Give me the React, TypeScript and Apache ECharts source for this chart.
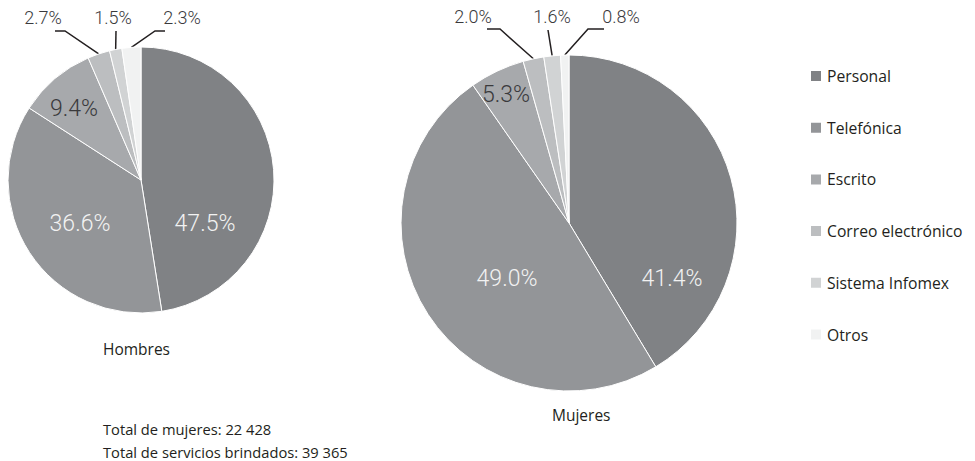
import React, { useEffect, useRef } from "react";
import * as echarts from "echarts";

const categories = ["Personal", "Telefónica", "Escrito", "Correo electrónico", "Sistema Infomex", "Otros"];
const hombresValues = [47.5, 36.6, 9.4, 2.7, 1.5, 2.3];
const mujeresValues = [41.4, 49.0, 5.3, 2.0, 1.6, 0.8];
const sliceColors = ["#808285", "#939598", "#a7a9ac", "#bcbec0", "#d1d3d4", "#f1f2f2"];
const pieTitles = ["Hombres", "Mujeres"];
const footerLines = ["Total de mujeres: 22 428", "Total de servicios brindados: 39 365"];

// label placement (offsets from pie centre), style only
type LabelCfg = { text: number[]; elbow?: number[]; end?: number[]; light?: boolean };
const hombresLabels: LabelCfg[] = [
  { text: [64, 43], light: true },
  { text: [-61, 43], light: true },
  { text: [-67, -72] },
  { text: [-98, -163], elbow: [-76, -149], end: [-86, -149] },
  { text: [-28, -163], elbow: [-25, -149], end: [-25, -149] },
  { text: [41, -163], elbow: [14, -149], end: [24, -149] },
];
const mujeresLabels: LabelCfg[] = [
  { text: [103, 55], light: true },
  { text: [-62, 55], light: true },
  { text: [-63, -129] },
  { text: [-96, -207], elbow: [-69, -194], end: [-82, -194] },
  { text: [-17, -207], elbow: [-21, -193], end: [-21, -193] },
  { text: [52, -207], elbow: [19, -194], end: [35, -194] },
];

const FONT = "'Open Sans', sans-serif";
const NUMFONT = "Roboto, sans-serif";
const TEXT_COLOR = "#231f20";

function buildData(values: number[], cfg: LabelCfg[]) {
  return values.map((v, i) => {
    const outside = !!cfg[i].elbow;
    return {
      name: categories[i],
      value: v,
      itemStyle: { color: sliceColors[i] },
      label: {
        position: outside ? "outside" : "inside",
        color: cfg[i].light ? "#f2f2f2" : "#3a3a3c",
        fontSize: outside ? 18 : 23,
      },
      labelLine: { show: outside },
    };
  });
}

function makeLayout(cx: number, cy: number, cfg: LabelCfg[]) {
  return (params: any) => {
    const c = cfg[params.dataIndex];
    const out: any = {
      x: cx + c.text[0],
      y: cy + c.text[1],
      align: "center",
      verticalAlign: "middle",
    };
    if (c.elbow && c.end && params.labelLinePoints) {
      const s = params.labelLinePoints[0];
      out.labelLinePoints = [
        [s[0], s[1]],
        [cx + c.elbow[0], cy + c.elbow[1]],
        [cx + c.end[0], cy + c.end[1]],
      ];
    }
    return out;
  };
}

function pieSeries(values: number[], cfg: LabelCfg[], cx: number, cy: number, r: number) {
  return {
    type: "pie",
    center: [cx, cy],
    radius: r,
    startAngle: 90,
    clockwise: true,
    avoidLabelOverlap: false,
    silent: true,
    itemStyle: { borderColor: "#ffffff", borderWidth: 1 },
    label: {
      show: true,
      fontFamily: NUMFONT,
      fontWeight: 300,
      formatter: (p: any) => Number(p.value).toFixed(1) + "%",
    },
    labelLine: {
      show: true,
      smooth: false,
      lineStyle: { color: TEXT_COLOR, width: 1.5 },
    },
    labelLayout: makeLayout(cx, cy, cfg),
    data: buildData(values, cfg),
  };
}

export default function App() {
  const ref = useRef<HTMLDivElement>(null);
  useEffect(() => {
    document.body.style.margin = "0";
    if (!ref.current) return;
    const chart = echarts.init(ref.current, undefined, { renderer: "svg" });
    const titleStyle = { fontFamily: FONT, fontWeight: "normal", color: TEXT_COLOR };
    chart.setOption({
      animation: false,
      backgroundColor: "#ffffff",
      title: [
        { text: pieTitles[0], left: 103, top: 341, padding: 0, textStyle: { ...titleStyle, fontSize: 15.5 } },
        { text: pieTitles[1], left: 552, top: 407, padding: 0, textStyle: { ...titleStyle, fontSize: 15.5 } },
        { text: footerLines[0], left: 103, top: 421, padding: 0, textStyle: { ...titleStyle, fontSize: 14.7 } },
        { text: footerLines[1], left: 103, top: 444, padding: 0, textStyle: { ...titleStyle, fontSize: 14.7 } },
      ],
      legend: {
        orient: "vertical",
        left: 809,
        top: 68,
        padding: 0,
        itemWidth: 12,
        itemHeight: 12,
        itemGap: 35.7,
        icon: "rect",
        selectedMode: false,
        data: categories,
        textStyle: { fontFamily: FONT, fontSize: 15.7, color: TEXT_COLOR },
      },
      series: [
        pieSeries(hombresValues, hombresLabels, 141, 180, 133),
        pieSeries(mujeresValues, mujeresLabels, 569, 223, 168),
      ],
    });
    return () => chart.dispose();
  }, []);
  return <div ref={ref} style={{ width: 975, height: 461 }} />;
}
